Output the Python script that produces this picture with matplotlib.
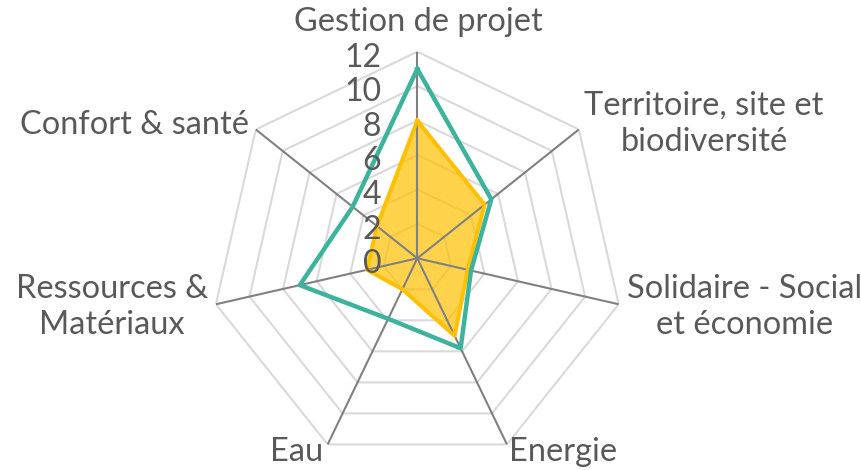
#!/usr/bin/env python3
"""Radar chart: scores per theme, two series (teal outline, yellow filled)."""

import matplotlib
matplotlib.use("Agg")
import matplotlib.pyplot as plt
import matplotlib.transforms as mtransforms
import numpy as np

plt.rcParams["font.family"] = ["Lato", "DejaVu Sans"]

CATEGORIES = [
    "Gestion de projet",
    "Territoire, site et\nbiodiversité",
    "Solidaire - Social\net économie",
    "Energie",
    "Eau",
    "Ressources &\nMatériaux",
    "Confort & santé",
]
TEAL_VALUES = [11, 5.5, 3.2, 5.8, 3.9, 7, 4.8]
YELLOW_VALUES = [8, 5, 3, 5, 2, 3, 3]
TICKS = [0, 2, 4, 6, 8, 10, 12]

# label anchor positions in pixels (x, y from top)
LABEL_POS = [(418, 22), (704, 124), (745, 307), (563, 452),
             (297, 452), (112, 307), (135, 125)]

TEAL = "#3db39e"
YELLOW = "#ffc000"
TEXT = "#595959"
W, H = 861, 470

fig = plt.figure(figsize=(W / 100, H / 100), dpi=100)
cx, cy, r = 417.3 / W, 1 - 258.3 / H, 206.6
ax = fig.add_axes([cx - r / W, cy - r / H, 2 * r / W, 2 * r / H],
                  projection="polar")
ax.set_theta_offset(np.pi / 2)
ax.set_theta_direction(-1)
ax.set_ylim(0, 12)
ax.grid(False)
ax.spines["polar"].set_visible(False)
ax.set_xticks([])
ax.set_yticks([])
ax.patch.set_alpha(0)

n = len(CATEGORIES)
angles = np.arange(n) * 2 * np.pi / n
closed = np.append(angles, angles[0])

for t in TICKS[1:]:
    ax.plot(closed, [t] * (n + 1), color="#d9d9d9", lw=1.5, zorder=1)
for a in angles:
    ax.plot([a, a], [0, 12], color="#808080", lw=1.5, zorder=2)

yv = np.append(YELLOW_VALUES, YELLOW_VALUES[0])
ax.fill(closed, yv, color=YELLOW, alpha=0.7, lw=0, zorder=1.5)
ax.plot(closed, yv, color=YELLOW, lw=2.8, zorder=3)

tv = np.append(TEAL_VALUES, TEAL_VALUES[0])
ax.plot(closed, tv, color=TEAL, lw=3.2, zorder=4)

tick_tr = ax.transData + mtransforms.ScaledTranslation(-36 / 100, -6 / 100,
                                                       fig.dpi_scale_trans)
for t in TICKS:
    ax.text(0, t, str(t), transform=tick_tr, ha="right", va="center",
            fontsize=23, color=TEXT, zorder=5)

for label, (px, py) in zip(CATEGORIES, LABEL_POS):
    fig.text(px / W, 1 - py / H, label, ha="center", va="center",
             fontsize=23.4, color=TEXT, linespacing=1.27)

fig.savefig("out.png", dpi=100)
